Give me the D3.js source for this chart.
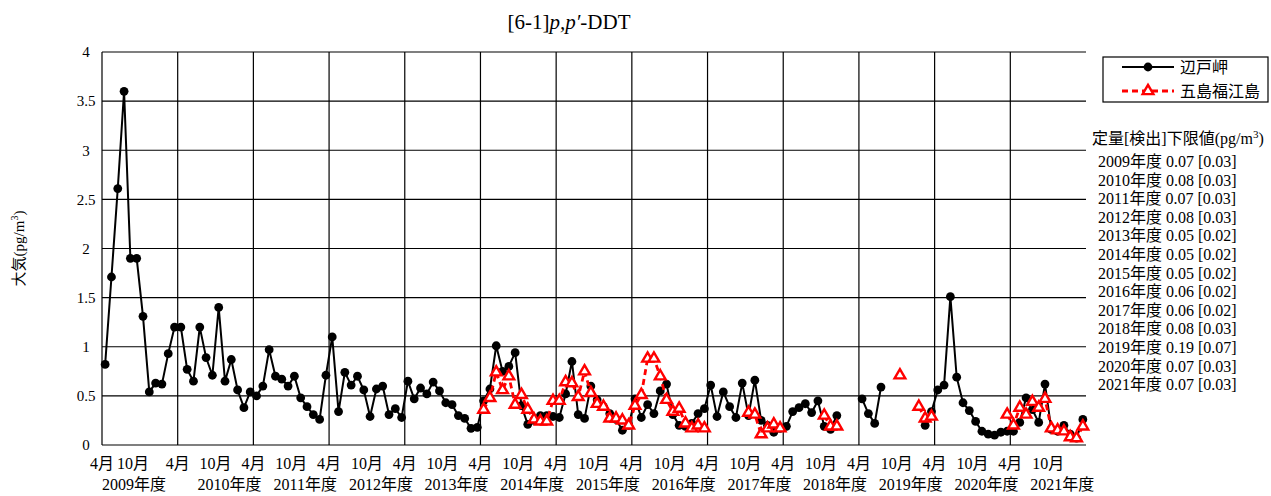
<!DOCTYPE html>
<html>
<head>
<meta charset="utf-8">
<script src="https://cdn.jsdelivr.net/npm/d3@7"></script>
<style>
  body { margin: 0; background: #fff; }
  text { font-family: "Liberation Serif", "Noto Sans CJK JP", serif; fill: #000; }
</style>
</head>
<body>
<div id="chart"></div>
<script>
// fiscal years (April - March), monthly samples
const fiscalYears = [2009, 2010, 2011, 2012, 2013, 2014, 2015, 2016, 2017, 2018, 2019, 2020, 2021];
const monthLabels = ["4月", "10月"];
const yTicks = [0, 0.5, 1, 1.5, 2, 2.5, 3, 3.5, 4];

// 辺戸岬 (pg/m3), one row per fiscal year Apr..Mar
const hedo = [
  0.82, 1.71, 2.61, 3.60, 1.90, 1.90, 1.31, 0.54, 0.63, 0.62, 0.93, 1.20,
  1.20, 0.77, 0.65, 1.20, 0.89, 0.71, 1.40, 0.65, 0.87, 0.56, 0.38, 0.54,
  0.50, 0.60, 0.97, 0.70, 0.67, 0.60, 0.70, 0.48, 0.39, 0.31, 0.26, 0.71,
  1.10, 0.34, 0.74, 0.61, 0.70, 0.56, 0.29, 0.57, 0.60, 0.31, 0.37, 0.28,
  0.65, 0.47, 0.58, 0.52, 0.64, 0.55, 0.43, 0.41, 0.30, 0.27, 0.17, 0.18,
  0.45, 0.57, 1.01, 0.75, 0.80, 0.94, 0.40, 0.21, 0.25, 0.30, 0.30, 0.29,
  0.28, 0.52, 0.85, 0.31, 0.27, 0.60, 0.46, 0.39, 0.32, 0.26, 0.15, 0.20,
  0.47, 0.28, 0.41, 0.32, 0.55, 0.62, 0.31, 0.20, 0.19, 0.22, 0.32, 0.37,
  0.61, 0.29, 0.54, 0.39, 0.28, 0.63, 0.30, 0.66, 0.25, 0.20, 0.13, 0.17,
  0.19, 0.34, 0.38, 0.42, 0.33, 0.45, 0.19, 0.16, 0.30, null, null, null,
  0.47, 0.32, 0.22, 0.59, null, null, null, null, null, null, 0.20, 0.34,
  0.56, 0.61, 1.51, 0.69, 0.43, 0.35, 0.24, 0.14, 0.11, 0.10, 0.13, 0.14,
  0.14, 0.23, 0.48, 0.36, 0.23, 0.62, 0.16, 0.14, 0.20, 0.11, 0.07, 0.26
];

// 五島福江島 (pg/m3), from FY2014
const goto = [
  null, null, null, null, null, null, null, null, null, null, null, null,
  null, null, null, null, null, null, null, null, null, null, null, null,
  null, null, null, null, null, null, null, null, null, null, null, null,
  null, null, null, null, null, null, null, null, null, null, null, null,
  null, null, null, null, null, null, null, null, null, null, null, null,
  0.36, 0.48, 0.74, 0.56, 0.70, 0.41, 0.51, 0.36, 0.26, 0.24, 0.24, 0.45,
  0.45, 0.64, 0.63, 0.49, 0.75, 0.53, 0.42, 0.39, 0.27, 0.27, 0.25, 0.20,
  0.40, 0.51, 0.88, 0.88, 0.70, 0.46, 0.34, 0.37, 0.22, 0.17, 0.20, 0.17,
  null, null, null, null, null, null, 0.33, 0.31, 0.11, 0.17, 0.21, 0.17,
  null, null, null, null, null, null, 0.30, 0.19, 0.19, null, null, null,
  null, null, null, null, null, null, 0.71, null, null, 0.39, 0.27, 0.29,
  null, null, null, null, null, null, null, null, null, null, null, 0.31,
  0.20, 0.38, 0.31, 0.44, 0.38, 0.47, 0.17, 0.15, 0.14, 0.08, 0.07, 0.19
];

// detection limits table
const quantLimits = ["0.07", "0.08", "0.07", "0.08", "0.05", "0.05", "0.05", "0.06", "0.06", "0.08", "0.19", "0.07", "0.07"];
const detectLimits = ["0.03", "0.03", "0.03", "0.03", "0.02", "0.02", "0.02", "0.02", "0.02", "0.03", "0.07", "0.03", "0.03"];

const width = 1271, height = 496,
    margin = ({ top: 52, right: 185, bottom: 51, left: 102 });

const svg = d3.select("#chart")
  .append("svg")
  .attr("width", width)
  .attr("height", height)
  .attr("viewBox", [0, 0, width, height]);

const nMonths = fiscalYears.length * 12;
const x = d3.scaleLinear()
  .domain([0, nMonths])
  .range([margin.left, width - margin.right]);
const y = d3.scaleLinear()
  .domain([0, 4])
  .range([height - margin.bottom, margin.top]);

// horizontal grid
svg.append("g")
  .selectAll("line")
  .data(yTicks)
  .join("line")
    .attr("x1", x(0)).attr("x2", x(nMonths))
    .attr("y1", d => y(d)).attr("y2", d => y(d))
    .attr("stroke", "#000").attr("stroke-width", 1.2);

// vertical grid at each April
svg.append("g")
  .selectAll("line")
  .data(fiscalYears)
  .join("line")
    .attr("x1", (d, i) => x(i * 12)).attr("x2", (d, i) => x(i * 12))
    .attr("y1", y(0)).attr("y2", y(4))
    .attr("stroke", "#000").attr("stroke-width", 1.2);

// y axis labels
svg.append("g")
  .selectAll("text")
  .data(yTicks)
  .join("text")
    .attr("x", 86)
    .attr("y", d => y(d))
    .attr("dy", "0.35em")
    .attr("text-anchor", "middle")
    .style("font-size", "15px")
    .text(d => d);

// x axis labels: month row and fiscal-year row
const xl = svg.append("g").style("font-size", "16px");
fiscalYears.forEach((fy, i) => {
  xl.append("text")
    .attr("x", x(i * 12))
    .attr("y", 469)
    .attr("text-anchor", "middle")
    .text(monthLabels[0]);
  xl.append("text")
    .attr("x", i === 0 ? 133 : x(i * 12 + 6))
    .attr("y", 469)
    .attr("text-anchor", "middle")
    .text(monthLabels[1]);
  xl.append("text")
    .attr("x", i === 0 ? 134 : x(i * 12 + 6) + 14)
    .attr("y", 490)
    .attr("text-anchor", "middle")
    .text(fy + "年度");
});

// y title
svg.append("text")
  .attr("transform", `translate(24,${(y(0) + y(4)) / 2}) rotate(-90)`)
  .attr("text-anchor", "middle")
  .style("font-size", "15px")
  .html('大気(pg/m<tspan dy="-6" font-size="10">3</tspan><tspan dy="6">)</tspan>');

// title
const title = svg.append("text")
  .attr("x", 569)
  .attr("y", 29)
  .attr("text-anchor", "middle")
  .style("font-size", "21px");
title.append("tspan").text("[6-1]");
title.append("tspan").attr("font-style", "italic").text("p,p′");
title.append("tspan").text("-DDT");

const pts = arr => arr.map((v, i) => ({ i, v }));

const line = d3.line()
  .defined(d => d.v !== null)
  .x(d => x(d.i + 0.5))
  .y(d => y(d.v));

// 辺戸岬
svg.append("path")
  .datum(pts(hedo))
  .attr("d", line)
  .attr("fill", "none")
  .attr("stroke", "#000")
  .attr("stroke-width", 2);
svg.append("g")
  .selectAll("circle")
  .data(pts(hedo).filter(d => d.v !== null))
  .join("circle")
    .attr("cx", d => x(d.i + 0.5))
    .attr("cy", d => y(d.v))
    .attr("r", 4.4)
    .attr("fill", "#000");

// 五島福江島
const tri = d3.symbol().type(d3.symbolTriangle).size(50);
svg.append("path")
  .datum(pts(goto))
  .attr("d", line)
  .attr("fill", "none")
  .attr("stroke", "#ff0000")
  .attr("stroke-width", 2.8)
  .attr("stroke-dasharray", "6,4");
svg.append("g")
  .selectAll("path")
  .data(pts(goto).filter(d => d.v !== null))
  .join("path")
    .attr("d", tri)
    .attr("transform", d => `translate(${x(d.i + 0.5)},${y(d.v)})`)
    .attr("fill", "#fff")
    .attr("stroke", "#ff0000")
    .attr("stroke-width", 2.4);

// legend
const lg = svg.append("g");
lg.append("rect")
  .attr("x", 1103).attr("y", 57)
  .attr("width", 165).attr("height", 45)
  .attr("fill", "#fff").attr("stroke", "#000").attr("stroke-width", 1.2);
lg.append("line")
  .attr("x1", 1122).attr("x2", 1174).attr("y1", 67).attr("y2", 67)
  .attr("stroke", "#000").attr("stroke-width", 2);
lg.append("circle").attr("cx", 1148).attr("cy", 67).attr("r", 4.4).attr("fill", "#000");
lg.append("line")
  .attr("x1", 1122).attr("x2", 1174).attr("y1", 91).attr("y2", 91)
  .attr("stroke", "#ff0000").attr("stroke-width", 2.8).attr("stroke-dasharray", "6,4");
lg.append("path").attr("d", tri).attr("transform", "translate(1148,91)")
  .attr("fill", "#fff").attr("stroke", "#ff0000").attr("stroke-width", 2.4);
lg.append("text").attr("x", 1180).attr("y", 73).style("font-size", "16px").text("辺戸岬");
lg.append("text").attr("x", 1180).attr("y", 97).style("font-size", "16px").text("五島福江島");

// detection limits
const dl = svg.append("g").style("font-size", "16px");
dl.append("text")
  .attr("x", 1092).attr("y", 144)
  .html('定量[検出]下限値(pg/m<tspan dy="-6" font-size="11">3</tspan><tspan dy="6">)</tspan>');
dl.selectAll("text.lim")
  .data(fiscalYears)
  .join("text")
    .attr("class", "lim")
    .attr("x", 1098)
    .attr("y", (d, i) => 167 + i * 18.6)
    .text((d, i) => `${d}年度 ${quantLimits[i]} [${detectLimits[i]}]`);
</script>
</body>
</html>
